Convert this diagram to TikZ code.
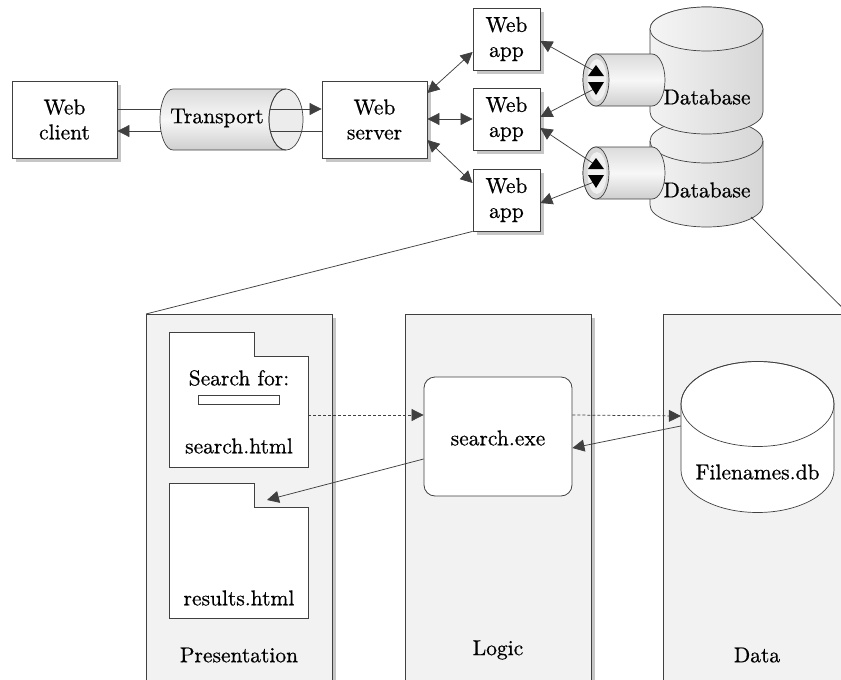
\documentclass[tikz,border=0pt]{standalone}
\usepackage{fontspec}
\setmainfont{lmroman10-regular}[Extension=.otf, FakeBold=0.6]
\usetikzlibrary{arrows.meta,shadows,calc}
\definecolor{panelgray}{HTML}{F2F2F2}
\definecolor{edge}{HTML}{404040}
\definecolor{wire}{HTML}{404040}
\definecolor{shadowgray}{HTML}{C6C6C6}
\begin{document}
\begin{tikzpicture}[x=1pt,y=-1pt,
  >={Triangle[length=12pt,width=12pt]},
  font=\fontsize{21.5}{25}\selectfont,
  box/.style={draw=edge, fill=white, line width=0.8pt, inner sep=0pt, align=center,
    general shadow={fill=shadowgray, shadow xshift=4pt, shadow yshift=-4pt}},
  panel/.style={draw=edge, fill=panelgray, line width=0.8pt, inner sep=0pt, anchor=north west,
    minimum height=400pt,
    general shadow={fill=shadowgray, shadow xshift=4pt, shadow yshift=-4pt}},
  doc/.style={draw=edge, fill=white, line width=0.8pt},
  wire/.style={draw=wire, line width=0.75pt},
  dashwire/.style={wire, dash pattern=on 3pt off 2pt},
  tip/.style={fill=black, draw=none},
  hcyl/.style={draw=edge, line width=0.7pt, shade, top color=gray!28, bottom color=gray!38, middle color=gray!6},
  vcyl/.style={draw=edge, line width=0.7pt, shade, left color=gray!10, right color=gray!32},
  label/.style={inner sep=0pt}
]
\useasboundingbox (0,0) rectangle (841,680);
\clip (0,0) rectangle (841,680);

% ---------- upper tier: client, transport, server, apps ----------
\node[box, minimum width=105pt, minimum height=77pt] (client) at (64.5,119.5) {Web\\client};
\node[box, minimum width=105pt, minimum height=77pt] (server) at (374.5,119.5) {Web\\server};
\node[box, minimum width=67pt, minimum height=62pt] (app1) at (506.5,39) {Web\\app};
\node[box, minimum width=67pt, minimum height=62pt] (app2) at (506.5,119) {Web\\app};
\node[box, minimum width=67pt, minimum height=62pt] (app3) at (506.5,200) {Web\\app};

% transport pipe: open end face, wires, then the body over them
\fill[gray!15] (286,119.5) ellipse [x radius=17pt, y radius=30.5pt];
\draw[wire,->] ([yshift=10.5pt]client.east) -- ([yshift=10.5pt]server.west);
\draw[wire,->] ([yshift=-11.5pt]server.west) -- ([yshift=-11.5pt]client.east);
\path[hcyl] (286,89) -- (173,89)
  arc[start angle=90, end angle=270, x radius=13pt, y radius=30.5pt]
  -- (286,150)
  arc[start angle=270, end angle=90, x radius=17pt, y radius=30.5pt] -- cycle;
\draw[edge, line width=0.7pt] (286,119.5) ellipse [x radius=17pt, y radius=30.5pt];
\node[label] (transport) at (217,118) {Transport};

% server to apps
\draw[wire,<->] ([yshift=26.5pt]server.east) -- ([yshift=-13pt]app1.west);
\draw[wire,<->] (server.east |- app2.west) -- (app2.west);
\draw[wire,<->] ([yshift=-20.5pt]server.east) -- ([yshift=17pt]app3.west);

% ---------- databases ----------
% lower database
\path[vcyl] (650,141) -- (650,205)
  arc[start angle=180, end angle=360, x radius=56.5pt, y radius=22pt]
  -- (763,141)
  arc[start angle=0, end angle=180, x radius=56.5pt, y radius=22pt] -- cycle;
\draw[edge, line width=0.7pt] (650,141) arc[start angle=180, end angle=360, x radius=56.5pt, y radius=22pt];
% upper database
\path[vcyl] (650,29) -- (650,112)
  arc[start angle=180, end angle=360, x radius=56.5pt, y radius=22pt]
  -- (763,29)
  arc[start angle=0, end angle=180, x radius=56.5pt, y radius=22pt] -- cycle;
\draw[edge, line width=0.7pt, shade, left color=gray!8, right color=gray!26] (706.5,29) ellipse [x radius=56.5pt, y radius=22pt];

% connector pipes
\foreach \cy/\nm in {80/c1, 173/c2} {
  \path[hcyl] (596,\cy-26) -- (652,\cy-26)
    arc[start angle=90, end angle=-90, x radius=13pt, y radius=26pt]
    -- (596,\cy+26)
    arc[start angle=270, end angle=90, x radius=13pt, y radius=26pt] -- cycle;
  \draw[edge, line width=0.7pt, fill=gray!32] (596,\cy) ellipse [x radius=13pt, y radius=26pt];
  \fill[gray!12] (597,\cy) ellipse [x radius=9.5pt, y radius=21pt];
  \coordinate (\nm up) at (594,\cy-9);
  \coordinate (\nm down) at (594,\cy+9);
}
\node[label] (db1) at (707,97) {Database};
\node[label] (db2) at (707,190) {Database};

% apps to connector pipes
\draw[wire,->] (c1up) -- ([yshift=-2pt]app1.east);
\draw[wire,->] (c1down) -- ([yshift=2pt]app2.east);
\draw[wire,->] (c2up) -- ([yshift=-9pt]app2.east);
\draw[wire,->] (c2down) -- ([yshift=-3pt]app3.east);
\foreach \cy in {80,173} {
  \fill[tip] (588,\cy-4) -- (596,\cy-15) -- (604,\cy-4) -- cycle;
  \fill[tip] (588,\cy+2) -- (596,\cy+15) -- (604,\cy+2) -- cycle;
}

% ---------- lower tier: three layers ----------
\node[panel, minimum width=186pt] (pres) at (146,314) {};
\node[panel, minimum width=186pt] (logic) at (405,314) {};
\node[panel, minimum width=185pt] (data) at (663,314) {};

\coordinate (dbfoot) at (751,217);
\draw[wire] (app3.south west) -- (pres.north west);
\draw[wire] (dbfoot) -- (data.north east);

% documents with folded corner
\path[doc] (169,332) -- (254,332) -- (254,356) -- (308,356) -- (308,467) -- (169,467) -- cycle;
\path[doc] (169,483) -- (254,483) -- (254,507) -- (308,507) -- (308,618) -- (169,618) -- cycle;
\node[inner sep=0pt, minimum width=139pt, minimum height=135pt] (search) at (238.5,399.5) {};
\node[inner sep=0pt, minimum width=139pt, minimum height=135pt] (results) at (238.5,550.5) {};
\coordinate (notch) at (267,500);
\node[label] at (239,378) {Search for:};
\draw[edge, line width=0.7pt, fill=white] (198,395) rectangle (279,404);
\node[label] at (239,446) {search.html};
\node[label] at (239,598) {results.html};

% program and data store
\node[draw=edge, fill=white, line width=0.8pt, rounded corners=11pt, minimum width=148pt, minimum height=119pt, inner sep=0pt] (exe) at (498,436.5) {};
\node[label] at (498,438) {search.exe};

\path[draw=edge, line width=0.7pt, fill=white] (681,404) -- (681,470)
  arc[start angle=180, end angle=360, x radius=76.5pt, y radius=42.5pt]
  -- (834,404)
  arc[start angle=0, end angle=180, x radius=76.5pt, y radius=42.5pt] -- cycle;
\draw[edge, line width=0.7pt] (757.5,404) ellipse [x radius=76.5pt, y radius=42.5pt];
\node[inner sep=0pt, minimum width=153pt, minimum height=150pt] (fdb) at (757.5,437) {};
\node[label] at (757.5,472) {Filenames.db};

% flow arrows
\draw[dashwire,->] ([yshift=-15.5pt]search.east) -- ([yshift=21.5pt]exe.west);
\draw[dashwire,->] ([yshift=21.5pt]exe.east) -- ([yshift=21pt]fdb.west);
\draw[wire,->] ([yshift=11pt]fdb.west) -- ([yshift=-11.5pt]exe.east);
\draw[wire,->] ([yshift=-22.5pt]exe.west) -- (notch);

% layer captions
\node[label] (preslbl) at (239,655) {Presentation};
\node[label] (logiclbl) at (498,650) {Logic};
\node[label] (datalbl) at (757,655) {Data};
\end{tikzpicture}
\end{document}
